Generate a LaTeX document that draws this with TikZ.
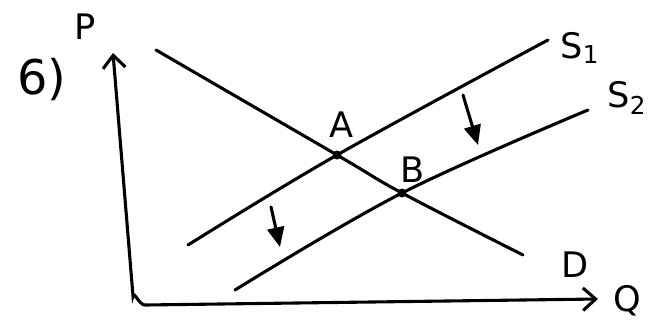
\documentclass[tikz,border=0pt]{standalone}
\usepackage{tikz}
\usetikzlibrary{arrows.meta,calc}
\usepackage{fontspec}
\setmainfont{DejaVu Sans}

\begin{document}
\begin{tikzpicture}[x=0.025cm,y=-0.025cm,line width=2.2pt,line cap=round,
    lbl/.style={font=\fontsize{25}{27}\selectfont},
    shiftarrow/.style={-{Triangle[length=14pt,width=12pt]}}]
      \useasboundingbox (0,0) rectangle (663,323);
      % axes
      \coordinate (top) at (113,53);
      \coordinate (right) at (598,299);
      \draw[{Straight Barb[length=9pt,width=16pt]}-{Straight Barb[length=9pt,width=16pt]}]
        (top) -- (133,296) to[out=85,in=180] (145,305) -- (right);
      \node[lbl] (p) at (85,27) {P};
      \node[lbl] (q) at (627,301) {Q};
      \node[font=\fontsize{34}{36}\selectfont] (num) at (42,80) {6)};
      % equilibria
      \coordinate (eqa) at (337,155);
      \coordinate (eqb) at (402,193);
      % demand and supply
      \coordinate (d1) at (156,50);
      \coordinate (d2) at (523,255);
      \coordinate (sa1) at (188,245);
      \coordinate (sa2) at (548,40);
      \coordinate (sb1) at (235,290);
      \coordinate (sb2) at (588,110);
      \draw plot[smooth,tension=0.6] coordinates {(d1) (eqa) (eqb) (d2)};
      \draw plot[smooth,tension=0.6] coordinates {(sa1) (eqa) (sa2)};
      \draw plot[smooth,tension=0.6] coordinates {(sb1) (eqb) (sb2)};
      \node[lbl] (dlab) at (575,265) {D};
      \node[lbl] (s1) at (580,48) {S\textsubscript{1}};
      \node[lbl] (s2) at (627,98) {S\textsubscript{2}};
      \fill (eqa) circle (3.2pt);
      \fill (eqb) circle (3.2pt);
      \node[lbl] (a) at (342,125) {A};
      \node[lbl] (b) at (413,170) {B};
      % shift
      \draw[shiftarrow] (463,95) -- (478,145);
      \draw[shiftarrow] (271,207) -- (280,247);
\end{tikzpicture}
\end{document}
